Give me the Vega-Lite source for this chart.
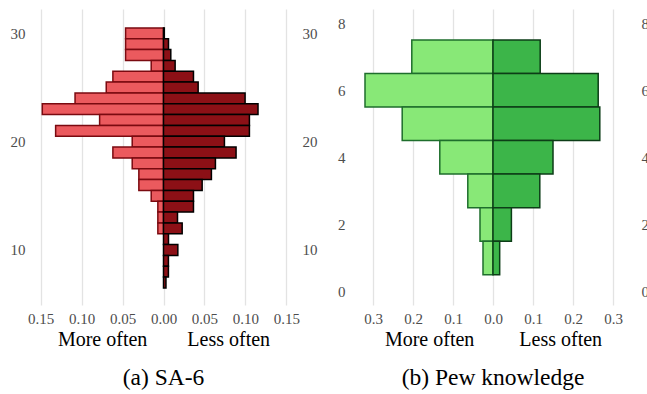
{
  "$schema": "https://vega.github.io/schema/vega-lite/v6.json",
  "padding": {"left": 10, "top": 9, "right": 5, "bottom": 5},
  "background": "white",
  "config": {
    "view": {"stroke": null},
    "font": "Liberation Serif",
    "axis": {
      "domain": false,
      "ticks": false,
      "labelFont": "Liberation Serif",
      "labelFontSize": 15,
      "labelColor": "#4d4d4d",
      "titleFont": "Liberation Serif",
      "titleFontWeight": "normal",
      "titleColor": "#000000",
      "titleFontSize": 20
    },
    "title": {"font": "Liberation Serif", "fontSize": 23.5, "fontWeight": "normal", "color": "#000000", "orient": "bottom", "anchor": "middle"}
  },
  "datasets": {
    "sa6": [
      {"score": 30, "lo": 29.5, "hi": 30.5, "group": "More often", "share": -0.0463},
      {"score": 29, "lo": 28.5, "hi": 29.5, "group": "More often", "share": -0.0463},
      {"score": 28, "lo": 27.5, "hi": 28.5, "group": "More often", "share": -0.0463},
      {"score": 27, "lo": 26.5, "hi": 27.5, "group": "More often", "share": -0.015},
      {"score": 26, "lo": 25.5, "hi": 26.5, "group": "More often", "share": -0.0618},
      {"score": 25, "lo": 24.5, "hi": 25.5, "group": "More often", "share": -0.0699},
      {"score": 24, "lo": 23.5, "hi": 24.5, "group": "More often", "share": -0.108},
      {"score": 23, "lo": 22.5, "hi": 23.5, "group": "More often", "share": -0.148},
      {"score": 22, "lo": 21.5, "hi": 22.5, "group": "More often", "share": -0.078},
      {"score": 21, "lo": 20.5, "hi": 21.5, "group": "More often", "share": -0.1317},
      {"score": 20, "lo": 19.5, "hi": 20.5, "group": "More often", "share": -0.0382},
      {"score": 19, "lo": 18.5, "hi": 19.5, "group": "More often", "share": -0.0618},
      {"score": 18, "lo": 17.5, "hi": 18.5, "group": "More often", "share": -0.0382},
      {"score": 17, "lo": 16.5, "hi": 17.5, "group": "More often", "share": -0.0301},
      {"score": 16, "lo": 15.5, "hi": 16.5, "group": "More often", "share": -0.0301},
      {"score": 15, "lo": 14.5, "hi": 15.5, "group": "More often", "share": -0.015},
      {"score": 14, "lo": 13.5, "hi": 14.5, "group": "More often", "share": -0.0069},
      {"score": 13, "lo": 12.5, "hi": 13.5, "group": "More often", "share": -0.0069},
      {"score": 12, "lo": 11.5, "hi": 12.5, "group": "More often", "share": -0.0069},
      {"score": 30, "lo": 29.5, "hi": 30.5, "group": "Less often", "share": 0.001},
      {"score": 29, "lo": 28.5, "hi": 29.5, "group": "Less often", "share": 0.0061},
      {"score": 28, "lo": 27.5, "hi": 28.5, "group": "Less often", "share": 0.0089},
      {"score": 27, "lo": 26.5, "hi": 27.5, "group": "Less often", "share": 0.0142},
      {"score": 26, "lo": 25.5, "hi": 26.5, "group": "Less often", "share": 0.0366},
      {"score": 25, "lo": 24.5, "hi": 25.5, "group": "Less often", "share": 0.0423},
      {"score": 24, "lo": 23.5, "hi": 24.5, "group": "Less often", "share": 0.0996},
      {"score": 23, "lo": 22.5, "hi": 23.5, "group": "Less often", "share": 0.1154},
      {"score": 22, "lo": 21.5, "hi": 22.5, "group": "Less often", "share": 0.1049},
      {"score": 21, "lo": 20.5, "hi": 21.5, "group": "Less often", "share": 0.1049},
      {"score": 20, "lo": 19.5, "hi": 20.5, "group": "Less often", "share": 0.0744},
      {"score": 19, "lo": 18.5, "hi": 19.5, "group": "Less often", "share": 0.0886},
      {"score": 18, "lo": 17.5, "hi": 18.5, "group": "Less often", "share": 0.0634},
      {"score": 17, "lo": 16.5, "hi": 17.5, "group": "Less often", "share": 0.0585},
      {"score": 16, "lo": 15.5, "hi": 16.5, "group": "Less often", "share": 0.0472},
      {"score": 15, "lo": 14.5, "hi": 15.5, "group": "Less often", "share": 0.0366},
      {"score": 14, "lo": 13.5, "hi": 14.5, "group": "Less often", "share": 0.0366},
      {"score": 13, "lo": 12.5, "hi": 13.5, "group": "Less often", "share": 0.0171},
      {"score": 12, "lo": 11.5, "hi": 12.5, "group": "Less often", "share": 0.0228},
      {"score": 11, "lo": 10.5, "hi": 11.5, "group": "Less often", "share": 0.0061},
      {"score": 10, "lo": 9.5, "hi": 10.5, "group": "Less often", "share": 0.0175},
      {"score": 9, "lo": 8.5, "hi": 9.5, "group": "Less often", "share": 0.006},
      {"score": 8, "lo": 7.5, "hi": 8.5, "group": "Less often", "share": 0.006},
      {"score": 7, "lo": 6.5, "hi": 7.5, "group": "Less often", "share": 0.003}
    ],
    "pew": [
      {"score": 7, "lo": 6.5, "hi": 7.5, "group": "More often", "share": -0.203},
      {"score": 6, "lo": 5.5, "hi": 6.5, "group": "More often", "share": -0.32},
      {"score": 5, "lo": 4.5, "hi": 5.5, "group": "More often", "share": -0.227},
      {"score": 4, "lo": 3.5, "hi": 4.5, "group": "More often", "share": -0.133},
      {"score": 3, "lo": 2.5, "hi": 3.5, "group": "More often", "share": -0.063},
      {"score": 2, "lo": 1.5, "hi": 2.5, "group": "More often", "share": -0.0325},
      {"score": 1, "lo": 0.5, "hi": 1.5, "group": "More often", "share": -0.025},
      {"score": 7, "lo": 6.5, "hi": 7.5, "group": "Less often", "share": 0.118},
      {"score": 6, "lo": 5.5, "hi": 6.5, "group": "Less often", "share": 0.263},
      {"score": 5, "lo": 4.5, "hi": 5.5, "group": "Less often", "share": 0.267},
      {"score": 4, "lo": 3.5, "hi": 4.5, "group": "Less often", "share": 0.15},
      {"score": 3, "lo": 2.5, "hi": 3.5, "group": "Less often", "share": 0.117},
      {"score": 2, "lo": 1.5, "hi": 2.5, "group": "Less often", "share": 0.046},
      {"score": 1, "lo": 0.5, "hi": 1.5, "group": "Less often", "share": 0.0167}
    ]
  },
  "bounds": "flush",
  "spacing": 53,
  "resolve": {"scale": {"color": "independent", "stroke": "independent"}},
  "hconcat": [
    {
      "width": 267,
      "height": 296,
      "title": {"text": "(a) SA-6", "offset": 17},
      "data": {"name": "sa6"},
      "layer": [
        {
          "mark": {"type": "bar", "strokeWidth": 1.5},
          "encoding": {
            "x": {"field": "share", "type": "quantitative", "scale": {"domain": [-0.163, 0.163], "nice": false, "zero": false},
              "axis": {"values": [-0.15, -0.1, -0.05, 0, 0.05, 0.1, 0.15], "labelExpr": "format(abs(datum.value), '.2f')", "grid": true, "gridColor": "#e3e3e3", "gridWidth": 1.3, "labelPadding": 6, "titlePadding": 3, "title": "More often\u00a0\u00a0\u00a0\u00a0\u00a0\u00a0\u00a0\u00a0Less often"}},
            "x2": {"datum": 0},
            "y": {"field": "lo", "type": "quantitative", "scale": {"domain": [4.92, 32.25], "nice": false, "zero": false},
              "axis": {"values": [10, 20, 30], "grid": false, "orient": "left", "labelPadding": 5, "title": null}},
            "y2": {"field": "hi"},
            "color": {"field": "group", "type": "nominal", "scale": {"domain": ["More often", "Less often"], "range": ["#eb5a5e", "#8c1016"]}, "legend": null},
            "stroke": {"field": "group", "type": "nominal", "scale": {"domain": ["More often", "Less often"], "range": ["#7a0a10", "#000000"]}, "legend": null}
          }
        },
        {
          "mark": {"type": "rule", "opacity": 0},
          "encoding": {
            "y": {"field": "lo", "type": "quantitative", "axis": {"values": [10, 20, 30], "grid": false, "orient": "right", "labelPadding": 5, "title": null}}
          }
        }
      ],
      "resolve": {"axis": {"y": "independent"}}
    },
    {
      "width": 286,
      "height": 296,
      "title": {"text": "(b) Pew knowledge", "offset": 17},
      "data": {"name": "pew"},
      "layer": [
        {
          "mark": {"type": "bar", "strokeWidth": 1.5},
          "encoding": {
            "x": {"field": "share", "type": "quantitative", "scale": {"domain": [-0.3575, 0.3575], "nice": false, "zero": false},
              "axis": {"values": [-0.3, -0.2, -0.1, 0, 0.1, 0.2, 0.3], "labelExpr": "format(abs(datum.value), '.1f')", "grid": true, "gridColor": "#e3e3e3", "gridWidth": 1.3, "labelPadding": 6, "titlePadding": 3, "title": "More often\u00a0\u00a0\u00a0\u00a0\u00a0\u00a0\u00a0\u00a0\u00a0Less often"}},
            "x2": {"datum": 0},
            "y": {"field": "lo", "type": "quantitative", "scale": {"domain": [-0.4, 8.42], "nice": false, "zero": false},
              "axis": {"values": [0, 2, 4, 6, 8], "grid": false, "orient": "left", "labelPadding": 5, "title": null}},
            "y2": {"field": "hi"},
            "color": {"field": "group", "type": "nominal", "scale": {"domain": ["More often", "Less often"], "range": ["#88e877", "#3cb549"]}, "legend": null},
            "stroke": {"field": "group", "type": "nominal", "scale": {"domain": ["More often", "Less often"], "range": ["#1e6e2c", "#0c3d17"]}, "legend": null}
          }
        },
        {
          "mark": {"type": "rule", "opacity": 0},
          "encoding": {
            "y": {"field": "lo", "type": "quantitative", "axis": {"values": [0, 2, 4, 6, 8], "grid": false, "orient": "right", "labelPadding": 5, "title": null}}
          }
        }
      ],
      "resolve": {"axis": {"y": "independent"}}
    }
  ]
}
